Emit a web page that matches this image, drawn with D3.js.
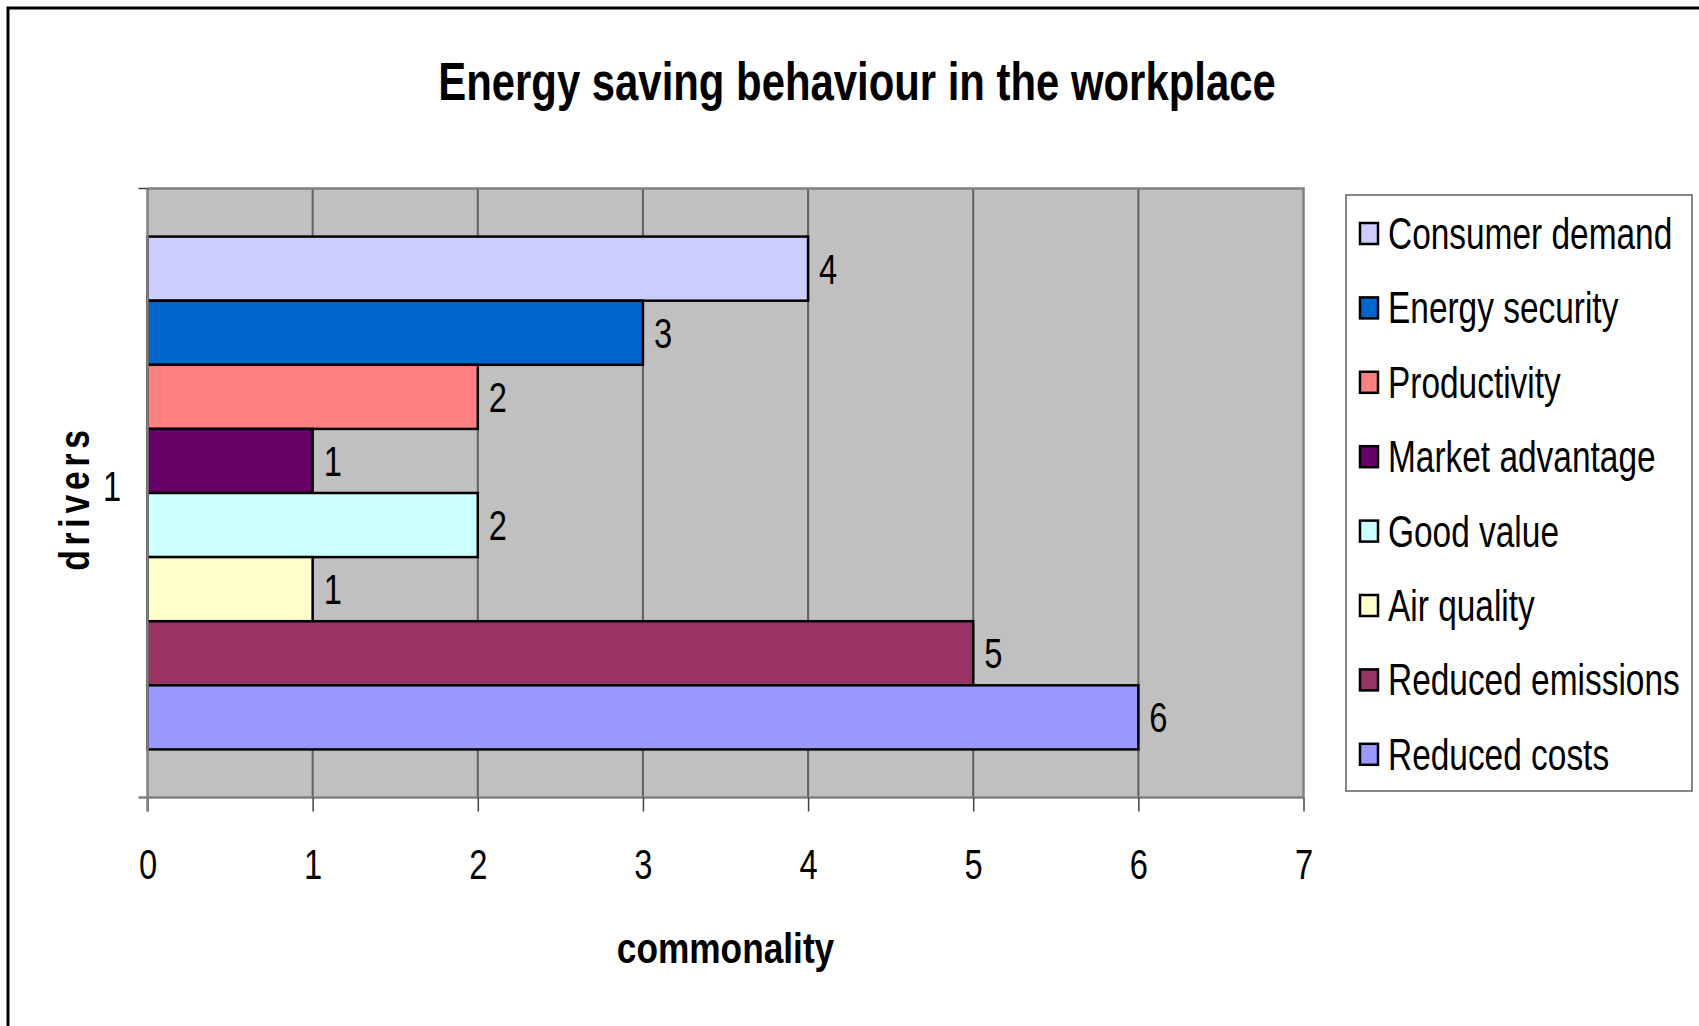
<!DOCTYPE html>
<html>
<head>
<meta charset="utf-8">
<script src="https://cdn.jsdelivr.net/npm/d3@7"></script>
<style>
  body { margin: 0; background: #fff; }
  svg text { font-family: "Liberation Sans", Arial, sans-serif; fill: #000; }
</style>
</head>
<body>
<svg id="chart" width="1699" height="1026"></svg>
<script>
// series, top to bottom as drawn (legend order)
const seriesNames = ["Consumer demand", "Energy security", "Productivity", "Market advantage",
  "Good value", "Air quality", "Reduced emissions", "Reduced costs"];
const seriesValues = [4, 3, 2, 1, 2, 1, 5, 6];
const seriesColors = ["#CCCCFF", "#0066CC", "#FF8080", "#660066",
  "#CCFFFF", "#FFFFCC", "#993366", "#9999FF"];
const categories = ["1"];
const xTicks = [0, 1, 2, 3, 4, 5, 6, 7];

const svg = d3.select("#chart");
const SX = 0.76; // narrow font look

// plot area
const plot = { left: 147.5, right: 1303.5, top: 188.5, bottom: 797.5 };

const x = d3.scaleLinear().domain([0, 7]).range([plot.left, plot.right]);
const yCat = d3.scaleBand().domain(categories).range([plot.top, plot.bottom]);
const ySer = d3.scaleBand().domain(seriesNames)
  .range([yCat(categories[0]), yCat(categories[0]) + yCat.bandwidth()])
  .paddingInner(0).paddingOuter(0.75);

// helper: text squeezed horizontally
function narrowText(parent, px, py, str, size, opts = {}) {
  const g = parent.append("g").attr("transform", `translate(${px},${py})`);
  const t = g.append("text")
    .attr("transform", `scale(${opts.sx || SX},1)`)
    .attr("text-anchor", opts.anchor || "start")
    .style("font-size", size + "px")
    .style("font-weight", opts.bold ? "bold" : "normal")
    .text(str);
  if (opts.spacing) t.style("letter-spacing", opts.spacing + "px");
  return g;
}

// outer chart border
svg.append("rect")
  .attr("x", 8).attr("y", 8).attr("width", 1720).attr("height", 1050)
  .attr("fill", "none").attr("stroke", "#000").attr("stroke-width", 3);

// title
narrowText(svg, 857, 100, "Energy saving behaviour in the workplace", 53,
  { anchor: "middle", bold: true, sx: 0.79 });

// plot background
svg.append("rect")
  .attr("x", plot.left).attr("y", plot.top)
  .attr("width", plot.right - plot.left).attr("height", plot.bottom - plot.top)
  .attr("fill", "#C0C0C0");

// vertical gridlines
svg.append("g").selectAll("line")
  .data(xTicks.slice(1, -1))
  .join("line")
  .attr("x1", (d) => x(d)).attr("x2", (d) => x(d))
  .attr("y1", plot.top).attr("y2", plot.bottom)
  .attr("stroke", "#606060").attr("stroke-width", 2);

// plot frame (top / right)
svg.append("path")
  .attr("d", `M${plot.left},${plot.top}H${plot.right}V${plot.bottom}`)
  .attr("fill", "none").attr("stroke", "#808080").attr("stroke-width", 2.5);

// bars
svg.append("g").selectAll("rect")
  .data(seriesNames)
  .join("rect")
  .attr("x", x(0))
  .attr("y", (d) => ySer(d))
  .attr("width", (d, i) => x(seriesValues[i]) - x(0))
  .attr("height", ySer.bandwidth())
  .attr("fill", (d, i) => seriesColors[i])
  .attr("stroke", "#000").attr("stroke-width", 2.5);

// data labels
const labels = svg.append("g");
seriesNames.forEach((d, i) => {
  narrowText(labels, x(seriesValues[i]) + 11, ySer(d) + ySer.bandwidth() / 2 + 15,
    String(seriesValues[i]), 43);
});

// x axis
const xAxis = svg.append("g")
  .attr("transform", `translate(0,${plot.bottom})`)
  .call(d3.axisBottom(x).tickValues(xTicks).tickSize(14).tickFormat(d3.format("d")));
xAxis.select(".domain").attr("stroke", "#808080").attr("stroke-width", 2.5)
  .attr("d", `M${plot.left - 9},0H${plot.right}`);
xAxis.selectAll(".tick line").attr("stroke", "#404040").attr("stroke-width", 1.5);
xAxis.selectAll(".tick text")
  .attr("y", 82).attr("dy", null)
  .attr("transform", `scale(${SX},1)`)
  .style("font-size", "43px")
  .style("font-family", "'Liberation Sans', Arial, sans-serif")
  .attr("fill", "#000");

// y axis: line, edge ticks, category label
const yAx = svg.append("g");
yAx.append("line")
  .attr("x1", plot.left).attr("x2", plot.left)
  .attr("y1", plot.top).attr("y2", plot.bottom + 14)
  .attr("stroke", "#808080").attr("stroke-width", 2.5);
yAx.selectAll("line.edge")
  .data([yCat.range()[0]])
  .join("line").attr("class", "edge")
  .attr("x1", plot.left - 9).attr("x2", plot.left)
  .attr("y1", (d) => d).attr("y2", (d) => d)
  .attr("stroke", "#404040").attr("stroke-width", 1.5);
categories.forEach((c) => {
  narrowText(yAx, 112, yCat(c) + yCat.bandwidth() / 2 + 8, c, 43, { anchor: "middle" });
});

// axis titles
narrowText(svg, (plot.left + plot.right) / 2, 963, "commonality", 43,
  { anchor: "middle", bold: true, sx: 0.82 });
svg.append("text")
  .attr("transform", `translate(89,498) rotate(-90) scale(0.8,1)`)
  .attr("text-anchor", "middle")
  .style("font-size", "42px").style("font-weight", "bold")
  .style("letter-spacing", "6px")
  .text("drivers");

// legend
const legend = { left: 1346, top: 195, width: 346, height: 596, step: 74.4, first: 233 };
const lg = svg.append("g");
lg.append("rect")
  .attr("x", legend.left).attr("y", legend.top)
  .attr("width", legend.width).attr("height", legend.height)
  .attr("fill", "#fff").attr("stroke", "#606060").attr("stroke-width", 1.5);
seriesNames.forEach((d, i) => {
  const cy = legend.first + i * legend.step;
  lg.append("rect")
    .attr("x", 1360).attr("y", cy - 10)
    .attr("width", 18).attr("height", 21)
    .attr("fill", seriesColors[i])
    .attr("stroke", "#000").attr("stroke-width", 2.5);
  narrowText(lg, 1388, cy + 16, d, 44);
});
</script>
</body>
</html>
